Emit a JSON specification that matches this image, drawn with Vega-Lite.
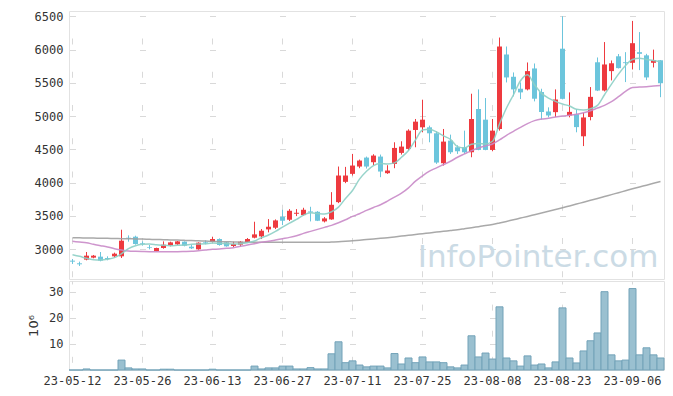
{
  "$schema": "https://vega.github.io/schema/vega-lite/v6.json",
  "background": "white",
  "padding": {"left": 27, "top": 9, "right": 9, "bottom": 5},
  "spacing": 0,
  "config": {
    "view": {"stroke": "#e2e2e2", "strokeWidth": 1},
    "axis": {"labelFont": "DejaVu Sans Mono", "labelFontSize": 12, "labelColor": "#333333", "domain": false, "ticks": false, "gridColor": "#d9d9d9", "gridWidth": 1, "titleFont": "DejaVu Sans", "titleFontSize": 13, "titleFontWeight": "normal", "titleColor": "#333333", "labelOverlap": false},
    "axisY": {"labelOverlap": false},
    "axisLeft": {"labelOverlap": false},
    "axisQuantitative": {"labelOverlap": false}
  },
  "datasets": {
    "d": [
      {"date":"23-05-12","o":2825,"h":2850,"l":2775,"c":2810,"v":0,"ma5":2915,"ma20":3115,"ma60":3170},
      {"date":"23-05-15","o":2785,"h":2810,"l":2745,"c":2770,"v":0,"ma5":2890,"ma20":3105,"ma60":3168},
      {"date":"23-05-16","o":2840,"h":2955,"l":2830,"c":2900,"v":0.4,"ma5":2860,"ma20":3095,"ma60":3166},
      {"date":"23-05-17","o":2870,"h":2910,"l":2860,"c":2900,"v":0,"ma5":2840,"ma20":3070,"ma60":3164},
      {"date":"23-05-18","o":2885,"h":2955,"l":2815,"c":2825,"v":0,"ma5":2835,"ma20":3050,"ma60":3162},
      {"date":"23-05-19","o":2865,"h":2890,"l":2830,"c":2850,"v":0,"ma5":2845,"ma20":3030,"ma60":3160},
      {"date":"23-05-22","o":2890,"h":2945,"l":2875,"c":2930,"v":0,"ma5":2870,"ma20":3005,"ma60":3158},
      {"date":"23-05-23","o":2890,"h":3290,"l":2865,"c":3125,"v":3.8,"ma5":2930,"ma20":2985,"ma60":3156},
      {"date":"23-05-24","o":3170,"h":3205,"l":3110,"c":3160,"v":0.8,"ma5":3005,"ma20":2970,"ma60":3154},
      {"date":"23-05-25","o":3185,"h":3200,"l":3065,"c":3075,"v":0.4,"ma5":3050,"ma20":2965,"ma60":3152},
      {"date":"23-05-26","o":3090,"h":3115,"l":3050,"c":3080,"v":0.4,"ma5":3070,"ma20":2962,"ma60":3150},
      {"date":"23-05-30","o":3030,"h":3060,"l":2995,"c":3020,"v":0,"ma5":3075,"ma20":2960,"ma60":3146},
      {"date":"23-05-31","o":2970,"h":3020,"l":2965,"c":3015,"v":0,"ma5":3065,"ma20":2960,"ma60":3143},
      {"date":"23-06-01","o":3015,"h":3115,"l":3005,"c":3065,"v":0.3,"ma5":3055,"ma20":2960,"ma60":3140},
      {"date":"23-06-02","o":3055,"h":3110,"l":3040,"c":3100,"v":0.3,"ma5":3050,"ma20":2960,"ma60":3137},
      {"date":"23-06-05","o":3070,"h":3120,"l":3060,"c":3115,"v":0,"ma5":3055,"ma20":2960,"ma60":3134},
      {"date":"23-06-07","o":3110,"h":3115,"l":3040,"c":3050,"v":0,"ma5":3060,"ma20":2962,"ma60":3130},
      {"date":"23-06-08","o":3035,"h":3060,"l":3000,"c":3010,"v":0,"ma5":3070,"ma20":2965,"ma60":3127},
      {"date":"23-06-09","o":2995,"h":3100,"l":2990,"c":3095,"v":0,"ma5":3075,"ma20":2975,"ma60":3123},
      {"date":"23-06-12","o":3105,"h":3130,"l":3070,"c":3095,"v":0,"ma5":3080,"ma20":2985,"ma60":3119},
      {"date":"23-06-13","o":3105,"h":3185,"l":3100,"c":3150,"v":0.3,"ma5":3090,"ma20":2995,"ma60":3115},
      {"date":"23-06-14","o":3150,"h":3160,"l":3050,"c":3060,"v":0,"ma5":3085,"ma20":3000,"ma60":3112},
      {"date":"23-06-15","o":3100,"h":3105,"l":3035,"c":3040,"v":0,"ma5":3080,"ma20":3010,"ma60":3109},
      {"date":"23-06-16","o":3045,"h":3110,"l":3030,"c":3075,"v":0,"ma5":3075,"ma20":3020,"ma60":3106},
      {"date":"23-06-19","o":3065,"h":3120,"l":3035,"c":3110,"v":0,"ma5":3080,"ma20":3040,"ma60":3103},
      {"date":"23-06-20","o":3095,"h":3165,"l":3090,"c":3150,"v":0,"ma5":3095,"ma20":3060,"ma60":3100},
      {"date":"23-06-21","o":3170,"h":3410,"l":3160,"c":3220,"v":1.5,"ma5":3120,"ma20":3080,"ma60":3100},
      {"date":"23-06-22","o":3190,"h":3300,"l":3150,"c":3275,"v":0.4,"ma5":3170,"ma20":3100,"ma60":3100},
      {"date":"23-06-23","o":3295,"h":3450,"l":3250,"c":3335,"v":0.8,"ma5":3210,"ma20":3115,"ma60":3100},
      {"date":"23-06-26","o":3320,"h":3445,"l":3300,"c":3430,"v":0.8,"ma5":3265,"ma20":3135,"ma60":3100},
      {"date":"23-06-27","o":3485,"h":3590,"l":3360,"c":3425,"v":1.5,"ma5":3330,"ma20":3155,"ma60":3100},
      {"date":"23-06-28","o":3440,"h":3600,"l":3420,"c":3575,"v":1.5,"ma5":3390,"ma20":3175,"ma60":3100},
      {"date":"23-06-29","o":3530,"h":3600,"l":3495,"c":3545,"v":0.4,"ma5":3445,"ma20":3200,"ma60":3100},
      {"date":"23-06-30","o":3510,"h":3620,"l":3500,"c":3590,"v":0.4,"ma5":3510,"ma20":3235,"ma60":3100},
      {"date":"23-07-03","o":3565,"h":3635,"l":3415,"c":3550,"v":0.9,"ma5":3545,"ma20":3265,"ma60":3100},
      {"date":"23-07-04","o":3560,"h":3570,"l":3420,"c":3425,"v":0.4,"ma5":3535,"ma20":3295,"ma60":3100},
      {"date":"23-07-05","o":3415,"h":3480,"l":3400,"c":3460,"v":0.4,"ma5":3525,"ma20":3325,"ma60":3100},
      {"date":"23-07-06","o":3445,"h":3855,"l":3440,"c":3665,"v":6.2,"ma5":3560,"ma20":3355,"ma60":3105},
      {"date":"23-07-07","o":3705,"h":4240,"l":3690,"c":4105,"v":10.8,"ma5":3630,"ma20":3395,"ma60":3110},
      {"date":"23-07-10","o":4010,"h":4235,"l":3990,"c":4105,"v":2.8,"ma5":3760,"ma20":3440,"ma60":3117},
      {"date":"23-07-11","o":4130,"h":4430,"l":4105,"c":4255,"v":3.5,"ma5":3880,"ma20":3490,"ma60":3125},
      {"date":"23-07-12","o":4240,"h":4345,"l":4215,"c":4330,"v":1.9,"ma5":4050,"ma20":3530,"ma60":3133},
      {"date":"23-07-13","o":4375,"h":4390,"l":4210,"c":4240,"v":1.2,"ma5":4170,"ma20":3580,"ma60":3142},
      {"date":"23-07-14","o":4305,"h":4425,"l":4260,"c":4405,"v":1.5,"ma5":4255,"ma20":3625,"ma60":3151},
      {"date":"23-07-17","o":4390,"h":4420,"l":4080,"c":4165,"v":1.5,"ma5":4285,"ma20":3665,"ma60":3160},
      {"date":"23-07-18","o":4140,"h":4260,"l":4130,"c":4180,"v":0.8,"ma5":4280,"ma20":3720,"ma60":3170},
      {"date":"23-07-19","o":4280,"h":4605,"l":4215,"c":4520,"v":6.3,"ma5":4295,"ma20":3780,"ma60":3182},
      {"date":"23-07-20","o":4445,"h":4620,"l":4420,"c":4540,"v":2.3,"ma5":4380,"ma20":3840,"ma60":3194},
      {"date":"23-07-21","o":4505,"h":4800,"l":4480,"c":4780,"v":4.6,"ma5":4480,"ma20":3920,"ma60":3206},
      {"date":"23-07-24","o":4790,"h":4955,"l":4530,"c":4915,"v":2.8,"ma5":4640,"ma20":4020,"ma60":3218},
      {"date":"23-07-25","o":4830,"h":5245,"l":4755,"c":4945,"v":5.0,"ma5":4790,"ma20":4100,"ma60":3230},
      {"date":"23-07-26","o":4830,"h":4855,"l":4605,"c":4740,"v":3.1,"ma5":4800,"ma20":4170,"ma60":3242},
      {"date":"23-07-27","o":4740,"h":4770,"l":4280,"c":4300,"v":3.1,"ma5":4760,"ma20":4220,"ma60":3254},
      {"date":"23-07-28","o":4290,"h":4805,"l":4255,"c":4615,"v":2.8,"ma5":4700,"ma20":4270,"ma60":3266},
      {"date":"23-07-31","o":4630,"h":4720,"l":4430,"c":4455,"v":1.2,"ma5":4650,"ma20":4320,"ma60":3278},
      {"date":"23-08-01","o":4530,"h":4560,"l":4430,"c":4470,"v":0.8,"ma5":4540,"ma20":4380,"ma60":3290},
      {"date":"23-08-02","o":4530,"h":4780,"l":4430,"c":4455,"v":1.9,"ma5":4520,"ma20":4430,"ma60":3305},
      {"date":"23-08-03","o":4455,"h":5335,"l":4380,"c":4955,"v":13.1,"ma5":4575,"ma20":4480,"ma60":3320},
      {"date":"23-08-04","o":5105,"h":5400,"l":4485,"c":4490,"v":5.0,"ma5":4585,"ma20":4520,"ma60":3336},
      {"date":"23-08-07","o":4945,"h":5270,"l":4485,"c":4490,"v":6.5,"ma5":4580,"ma20":4550,"ma60":3352},
      {"date":"23-08-08","o":4490,"h":4955,"l":4470,"c":4780,"v":4.2,"ma5":4620,"ma20":4580,"ma60":3370},
      {"date":"23-08-09","o":4805,"h":6180,"l":4780,"c":6045,"v":24.2,"ma5":4880,"ma20":4640,"ma60":3392},
      {"date":"23-08-10","o":5925,"h":6045,"l":5505,"c":5580,"v":4.6,"ma5":5120,"ma20":4710,"ma60":3415},
      {"date":"23-08-11","o":5590,"h":5655,"l":5295,"c":5400,"v":3.5,"ma5":5320,"ma20":4770,"ma60":3440},
      {"date":"23-08-14","o":5410,"h":5505,"l":5255,"c":5355,"v":1.5,"ma5":5530,"ma20":4830,"ma60":3465},
      {"date":"23-08-16","o":5400,"h":5805,"l":5385,"c":5675,"v":5.4,"ma5":5620,"ma20":4885,"ma60":3490},
      {"date":"23-08-17","o":5715,"h":5790,"l":5220,"c":5260,"v":1.9,"ma5":5470,"ma20":4930,"ma60":3516},
      {"date":"23-08-18","o":5360,"h":5410,"l":4945,"c":5060,"v":2.3,"ma5":5340,"ma20":4955,"ma60":3542},
      {"date":"23-08-21","o":5068,"h":5130,"l":4980,"c":5008,"v":0.8,"ma5":5270,"ma20":4965,"ma60":3568},
      {"date":"23-08-22","o":5058,"h":5400,"l":4985,"c":5248,"v":3.1,"ma5":5220,"ma20":4985,"ma60":3594},
      {"date":"23-08-23","o":6012,"h":6500,"l":5250,"c":5258,"v":23.8,"ma5":5180,"ma20":5000,"ma60":3620},
      {"date":"23-08-24","o":5008,"h":5355,"l":4980,"c":5062,"v":4.6,"ma5":5150,"ma20":5010,"ma60":3648},
      {"date":"23-08-25","o":5028,"h":5105,"l":4755,"c":4833,"v":2.7,"ma5":5100,"ma20":5025,"ma60":3676},
      {"date":"23-08-28","o":4695,"h":5045,"l":4548,"c":4978,"v":7.3,"ma5":5090,"ma20":5050,"ma60":3704},
      {"date":"23-08-29","o":4985,"h":5435,"l":4935,"c":5288,"v":11.2,"ma5":5110,"ma20":5080,"ma60":3732},
      {"date":"23-08-30","o":5808,"h":5880,"l":5375,"c":5383,"v":14.2,"ma5":5160,"ma20":5120,"ma60":3760},
      {"date":"23-08-31","o":5383,"h":6112,"l":5370,"c":5775,"v":30.0,"ma5":5320,"ma20":5160,"ma60":3789},
      {"date":"23-09-01","o":5675,"h":5835,"l":5535,"c":5793,"v":5.8,"ma5":5480,"ma20":5215,"ma60":3818},
      {"date":"23-09-04","o":5898,"h":5932,"l":5715,"c":5720,"v":3.5,"ma5":5630,"ma20":5290,"ma60":3847},
      {"date":"23-09-05","o":5808,"h":5960,"l":5510,"c":5795,"v":3.8,"ma5":5760,"ma20":5370,"ma60":3876},
      {"date":"23-09-06","o":5800,"h":6430,"l":5700,"c":6095,"v":31.2,"ma5":5850,"ma20":5430,"ma60":3905},
      {"date":"23-09-07","o":5960,"h":6262,"l":5690,"c":5935,"v":5.8,"ma5":5870,"ma20":5435,"ma60":3933},
      {"date":"23-09-08","o":5912,"h":5935,"l":5540,"c":5580,"v":8.5,"ma5":5850,"ma20":5440,"ma60":3960},
      {"date":"23-09-11","o":5800,"h":5998,"l":5730,"c":5838,"v":5.8,"ma5":5835,"ma20":5450,"ma60":3988},
      {"date":"23-09-12","o":5838,"h":5840,"l":5283,"c":5493,"v":4.6,"ma5":5815,"ma20":5460,"ma60":4015}
    ],
    "wm": [{"label": "InfoPointer.com", "date": "23-09-12", "y": 2869}]
  },
  "vconcat": [
    {
      "width": 595,
      "height": 268,
      "encoding": {
        "x": {"field": "date", "type": "ordinal", "scale": {"paddingInner": 0, "paddingOuter": 0},
              "axis": {"labels": false, "title": null, "grid": true, "bandPosition": 0.5, "gridDash": [6, 27.25], "gridDashOffset": 6.25,
                       "values": ["23-05-12","23-05-26","23-06-13","23-06-27","23-07-11","23-07-25","23-08-08","23-08-23","23-09-06"]}}
      },
      "layer": [
        {
          "data": {"name": "wm"},
          "mark": {"type": "text", "fontSize": 31, "font": "DejaVu Sans", "color": "#cbdbe5", "align": "right", "baseline": "middle", "dx": -2},
          "encoding": {"text": {"field": "label"},
            "y": {"field": "y", "type": "quantitative", "scale": {"domain": [2549, 6579], "nice": false, "zero": false},
                  "axis": {"title": null, "grid": true, "format": "d", "labelPadding": 6, "labelOverlap": false, "tickCount": 8, "values": [3000,3500,4000,4500,5000,5500,6000,6500], "gridDash": [6, 64], "gridDashOffset": 69.5}}}
        },
        {
          "data": {"name": "d"},
          "mark": {"type": "rule", "strokeWidth": 1},
          "encoding": {
            "y": {"field": "l", "type": "quantitative", "axis": {"title": null, "grid": true, "format": "d", "labelPadding": 6, "labelOverlap": false, "tickCount": 8, "values": [3000,3500,4000,4500,5000,5500,6000,6500], "gridDash": [6, 64], "gridDashOffset": 69.5}},
            "y2": {"field": "h"},
            "color": {"condition": {"test": "datum.c >= datum.o", "value": "#ee3a3f"}, "value": "#6cc5dc"}
          }
        },
        {
          "data": {"name": "d"},
          "mark": {"type": "bar", "size": 5},
          "encoding": {
            "y": {"field": "o", "type": "quantitative", "axis": {"title": null, "grid": true, "format": "d", "labelPadding": 6, "labelOverlap": false, "tickCount": 8, "values": [3000,3500,4000,4500,5000,5500,6000,6500], "gridDash": [6, 64], "gridDashOffset": 69.5}},
            "y2": {"field": "c"},
            "color": {"condition": {"test": "datum.c >= datum.o", "value": "#ee3a3f"}, "value": "#6cc5dc"}
          }
        },
        {
          "data": {"name": "d"},
          "mark": {"type": "line", "strokeWidth": 1.5, "color": "#a0a0a0", "opacity": 0.9, "interpolate": "monotone"},
          "encoding": {"y": {"field": "ma60", "type": "quantitative", "axis": {"title": null, "grid": true, "format": "d", "labelPadding": 6, "labelOverlap": false, "tickCount": 8, "values": [3000,3500,4000,4500,5000,5500,6000,6500], "gridDash": [6, 64], "gridDashOffset": 69.5}}}
        },
        {
          "data": {"name": "d"},
          "mark": {"type": "line", "strokeWidth": 1.5, "color": "#c98ac8", "opacity": 0.9, "interpolate": "monotone"},
          "encoding": {"y": {"field": "ma20", "type": "quantitative", "axis": {"title": null, "grid": true, "format": "d", "labelPadding": 6, "labelOverlap": false, "tickCount": 8, "values": [3000,3500,4000,4500,5000,5500,6000,6500], "gridDash": [6, 64], "gridDashOffset": 69.5}}}
        },
        {
          "data": {"name": "d"},
          "mark": {"type": "line", "strokeWidth": 1.5, "color": "#8dcfc5", "opacity": 0.9, "interpolate": "monotone"},
          "encoding": {"y": {"field": "ma5", "type": "quantitative", "axis": {"title": null, "grid": true, "format": "d", "labelPadding": 6, "labelOverlap": false, "tickCount": 8, "values": [3000,3500,4000,4500,5000,5500,6000,6500], "gridDash": [6, 64], "gridDashOffset": 69.5}}}
        }
      ]
    },
    {
      "width": 595,
      "height": 89,
      "data": {"name": "d"},
      "mark": {"type": "bar", "color": "#9ac0d0", "stroke": "#72a2b8", "strokeWidth": 1},
      "encoding": {
        "x": {"field": "date", "type": "ordinal", "scale": {"paddingInner": 0, "paddingOuter": 0},
              "axis": {"title": null, "labelAngle": 0, "labelPadding": 5, "grid": true, "bandPosition": 0.5, "gridDash": [6, 20.1], "gridDashOffset": 3,
                       "values": ["23-05-12","23-05-26","23-06-13","23-06-27","23-07-11","23-07-25","23-08-08","23-08-23","23-09-06"]}},
        "y": {"field": "v", "type": "quantitative", "scale": {"domain": [0, 34.1], "nice": false},
              "axis": {"title": "10⁶", "labelPadding": 6, "titlePadding": 8, "labelOverlap": false, "values": [10, 20, 30], "grid": true, "gridDash": [6, 64], "gridDashOffset": 69.5}}
      }
    }
  ]
}
